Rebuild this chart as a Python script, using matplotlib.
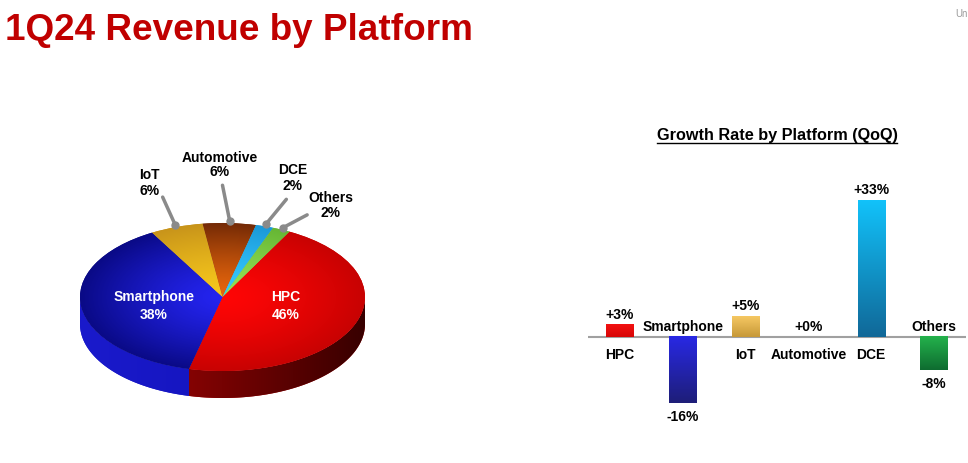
import numpy as np
import matplotlib.pyplot as plt
from matplotlib.colors import to_rgb
from matplotlib.lines import Line2D

plt.rcParams['font.family'] = ['Liberation Sans', 'DejaVu Sans']
plt.rcParams['font.weight'] = 'bold'

# data
share_labels = ['HPC', 'Smartphone', 'IoT', 'Automotive', 'DCE', 'Others']
share_values = [46, 38, 6, 6, 2, 2]
growth_labels = ['HPC', 'Smartphone', 'IoT', 'Automotive', 'DCE', 'Others']
growth_values = [3, -16, 5, 0, 33, -8]

W, H = 968, 463
fig = plt.figure(figsize=(W / 100, H / 100), dpi=100)
fig.patch.set_facecolor('white')


def px_axes(x0, y0, x1, y1):
    # box given in image pixels, origin top-left
    return fig.add_axes([x0 / W, 1 - y1 / H, (x1 - x0) / W, (y1 - y0) / H])


def mix(c1, c2, t):
    a = np.array(to_rgb(c1))
    b = np.array(to_rgb(c2))
    t = np.clip(np.asarray(t), 0, 1)[..., None]
    return a * (1 - t) + b * t


fig.text(5 / W, 1 - 40 / H, '1Q24 Revenue by Platform', fontsize=26.6,
         color='#c00000', va='baseline', ha='left')
fig.text(955 / W, 1 - 17 / H, 'Un', fontsize=7, color='#9a9a9a',
         fontweight='normal', va='baseline', ha='left')

# ---------------- 3D pie ----------------
top_center = ['#ff0606', '#2424f0', '#f7c81c', '#e8660c', '#38ccff', '#96e256']
top_edge = ['#c80202', '#0a0a86', '#c8941a', '#742a06', '#1a98d8', '#66b634']
side_light = ['#b40404', '#1a1acc', '#a07810', '#5a2004', '#1278b0', '#4c9028']
side_dark = ['#380000', '#1010b0', '#6a5008', '#3a1202', '#0a5078', '#306018']

pax = px_axes(60, 140, 390, 440)
wedges, _ = pax.pie(share_values, startangle=62, counterclock=False,
                    colors=top_edge, wedgeprops=dict(linewidth=0))
depth = 27 / 74

gx1 = np.linspace(-1, 1, 300)
for k, w in enumerate(wedges):
    t = np.radians(np.linspace(w.theta1, w.theta2, 400))
    t = t[np.sin(t) <= 0]
    if len(t) < 2:
        continue
    xs = np.concatenate([np.cos(t), np.cos(t[::-1])])
    ys = np.concatenate([np.sin(t), np.sin(t[::-1]) - depth])
    side = pax.fill(xs, ys, color=side_light[k], lw=0, zorder=1)[0]
    grad = mix(side_light[k], side_dark[k], (gx1 + 1) / 2)[None, :, :]
    im = pax.imshow(grad, extent=(-1, 1, -1 - depth, 0), aspect='auto',
                    interpolation='bilinear', zorder=1.5)
    im.set_clip_path(side)

# radial shading on the top faces
g = np.linspace(-1, 1, 300)
gx, gy = np.meshgrid(g, g)
rr = np.sqrt(gx ** 2 + gy ** 2) ** 1.3
for k, w in enumerate(wedges):
    w.set_zorder(2)
    img = mix(top_center[k], top_edge[k], rr)
    im = pax.imshow(img, extent=(-1, 1, -1, 1), origin='lower',
                    aspect='auto', interpolation='bilinear', zorder=3)
    im.set_clip_path(w)

# inside labels
inside_pos = {0: (0.44, -0.12), 1: (-0.48, -0.12)}
for k, (x, y) in inside_pos.items():
    pax.text(x, y, f'{share_labels[k]}\n{share_values[k]}%', color='white',
             fontsize=10, ha='center', va='center', linespacing=1.3, zorder=5)

# outside labels with leader lines
outside_pos = {2: (-0.51, 1.54), 3: (-0.02, 1.79), 4: (0.49, 1.61), 5: (0.76, 1.24)}
outside_ls = {2: 1.25, 3: 1.0, 4: 1.15, 5: 1.05}
line_start = {2: (-0.42, 1.35), 3: (0.0, 1.51), 4: (0.448, 1.32), 5: (0.594, 1.11)}
for k, (x, y) in outside_pos.items():
    pax.text(x, y, f'{share_labels[k]}\n{share_values[k]}%', color='black',
             fontsize=10, ha='center', va='center', linespacing=outside_ls[k],
             zorder=5)
    w = wedges[k]
    mid = np.radians((w.theta1 + w.theta2) / 2)
    dx, dy = 1.03 * np.cos(mid), 1.03 * np.sin(mid)
    sx, sy = line_start[k]
    pax.plot([sx, dx], [sy, dy], color='#8a8a8a', lw=2.5,
             solid_capstyle='round', zorder=4)
    pax.plot(dx, dy, 'o', ms=5, color='#8a8a8a', zorder=4)

pax.set_aspect('auto')
pax.set_xlim((60 - 222.5) / 142.5, (390 - 222.5) / 142.5)
pax.set_ylim((297 - 440) / 74, (297 - 140) / 74)
pax.axis('off')

# ---------------- growth bars ----------------
bax = px_axes(588, 150, 966, 440)
xpos = np.arange(len(growth_values))
bar_top = ['#f21212', '#2828e4', '#f6c862', '#888888', '#12c2fa', '#24b24c']
bar_bot = ['#d80606', '#1e1e78', '#c69838', '#888888', '#106898', '#0e6c30']
bars = bax.bar(xpos, growth_values, width=0.43, color=bar_top, lw=0, zorder=2)
for k, b in enumerate(bars):
    v = growth_values[k]
    if v == 0:
        continue
    lo, hi = min(0, v), max(0, v)
    grad = mix(bar_bot[k], bar_top[k], np.linspace(0, 1, 100))[:, None, :]
    bax.imshow(grad, extent=(b.get_x(), b.get_x() + b.get_width(), lo, hi),
               origin='lower', aspect='auto', interpolation='bilinear', zorder=3)

bax.axhline(0, color='#a0a0a0', lw=1.5, zorder=1)

for k, v in enumerate(growth_values):
    val = f'{v:+d}%'
    if v >= 0:
        bax.annotate(val, (k, v), xytext=(0, 4.3), textcoords='offset points',
                     ha='center', va='baseline', fontsize=10)
        bax.annotate(growth_labels[k], (k, 0), xytext=(0, -8),
                     textcoords='offset points', ha='center', va='top', fontsize=10)
    else:
        bax.annotate(growth_labels[k], (k, 0), xytext=(0, 4.3),
                     textcoords='offset points', ha='center', va='baseline', fontsize=10)
        bax.annotate(val, (k, v), xytext=(0, -5), textcoords='offset points',
                     ha='center', va='top', fontsize=10)

bax.set_xlim((588 - 620) / 62.8, (966 - 620) / 62.8)
bax.set_ylim(-(440 - 337) / 4.15, (337 - 150) / 4.15)
bax.axis('off')

sub = fig.text(777 / W, 1 - 140 / H, 'Growth Rate by Platform (QoQ)',
               fontsize=11.7, ha='center', va='baseline')
fig.canvas.draw()
bb = sub.get_window_extent()
fig.add_artist(Line2D([bb.x0 / W, bb.x1 / W], [(H - 143) / H] * 2,
                      transform=fig.transFigure, color='black', lw=1))

fig.savefig('out.png', dpi=100)
